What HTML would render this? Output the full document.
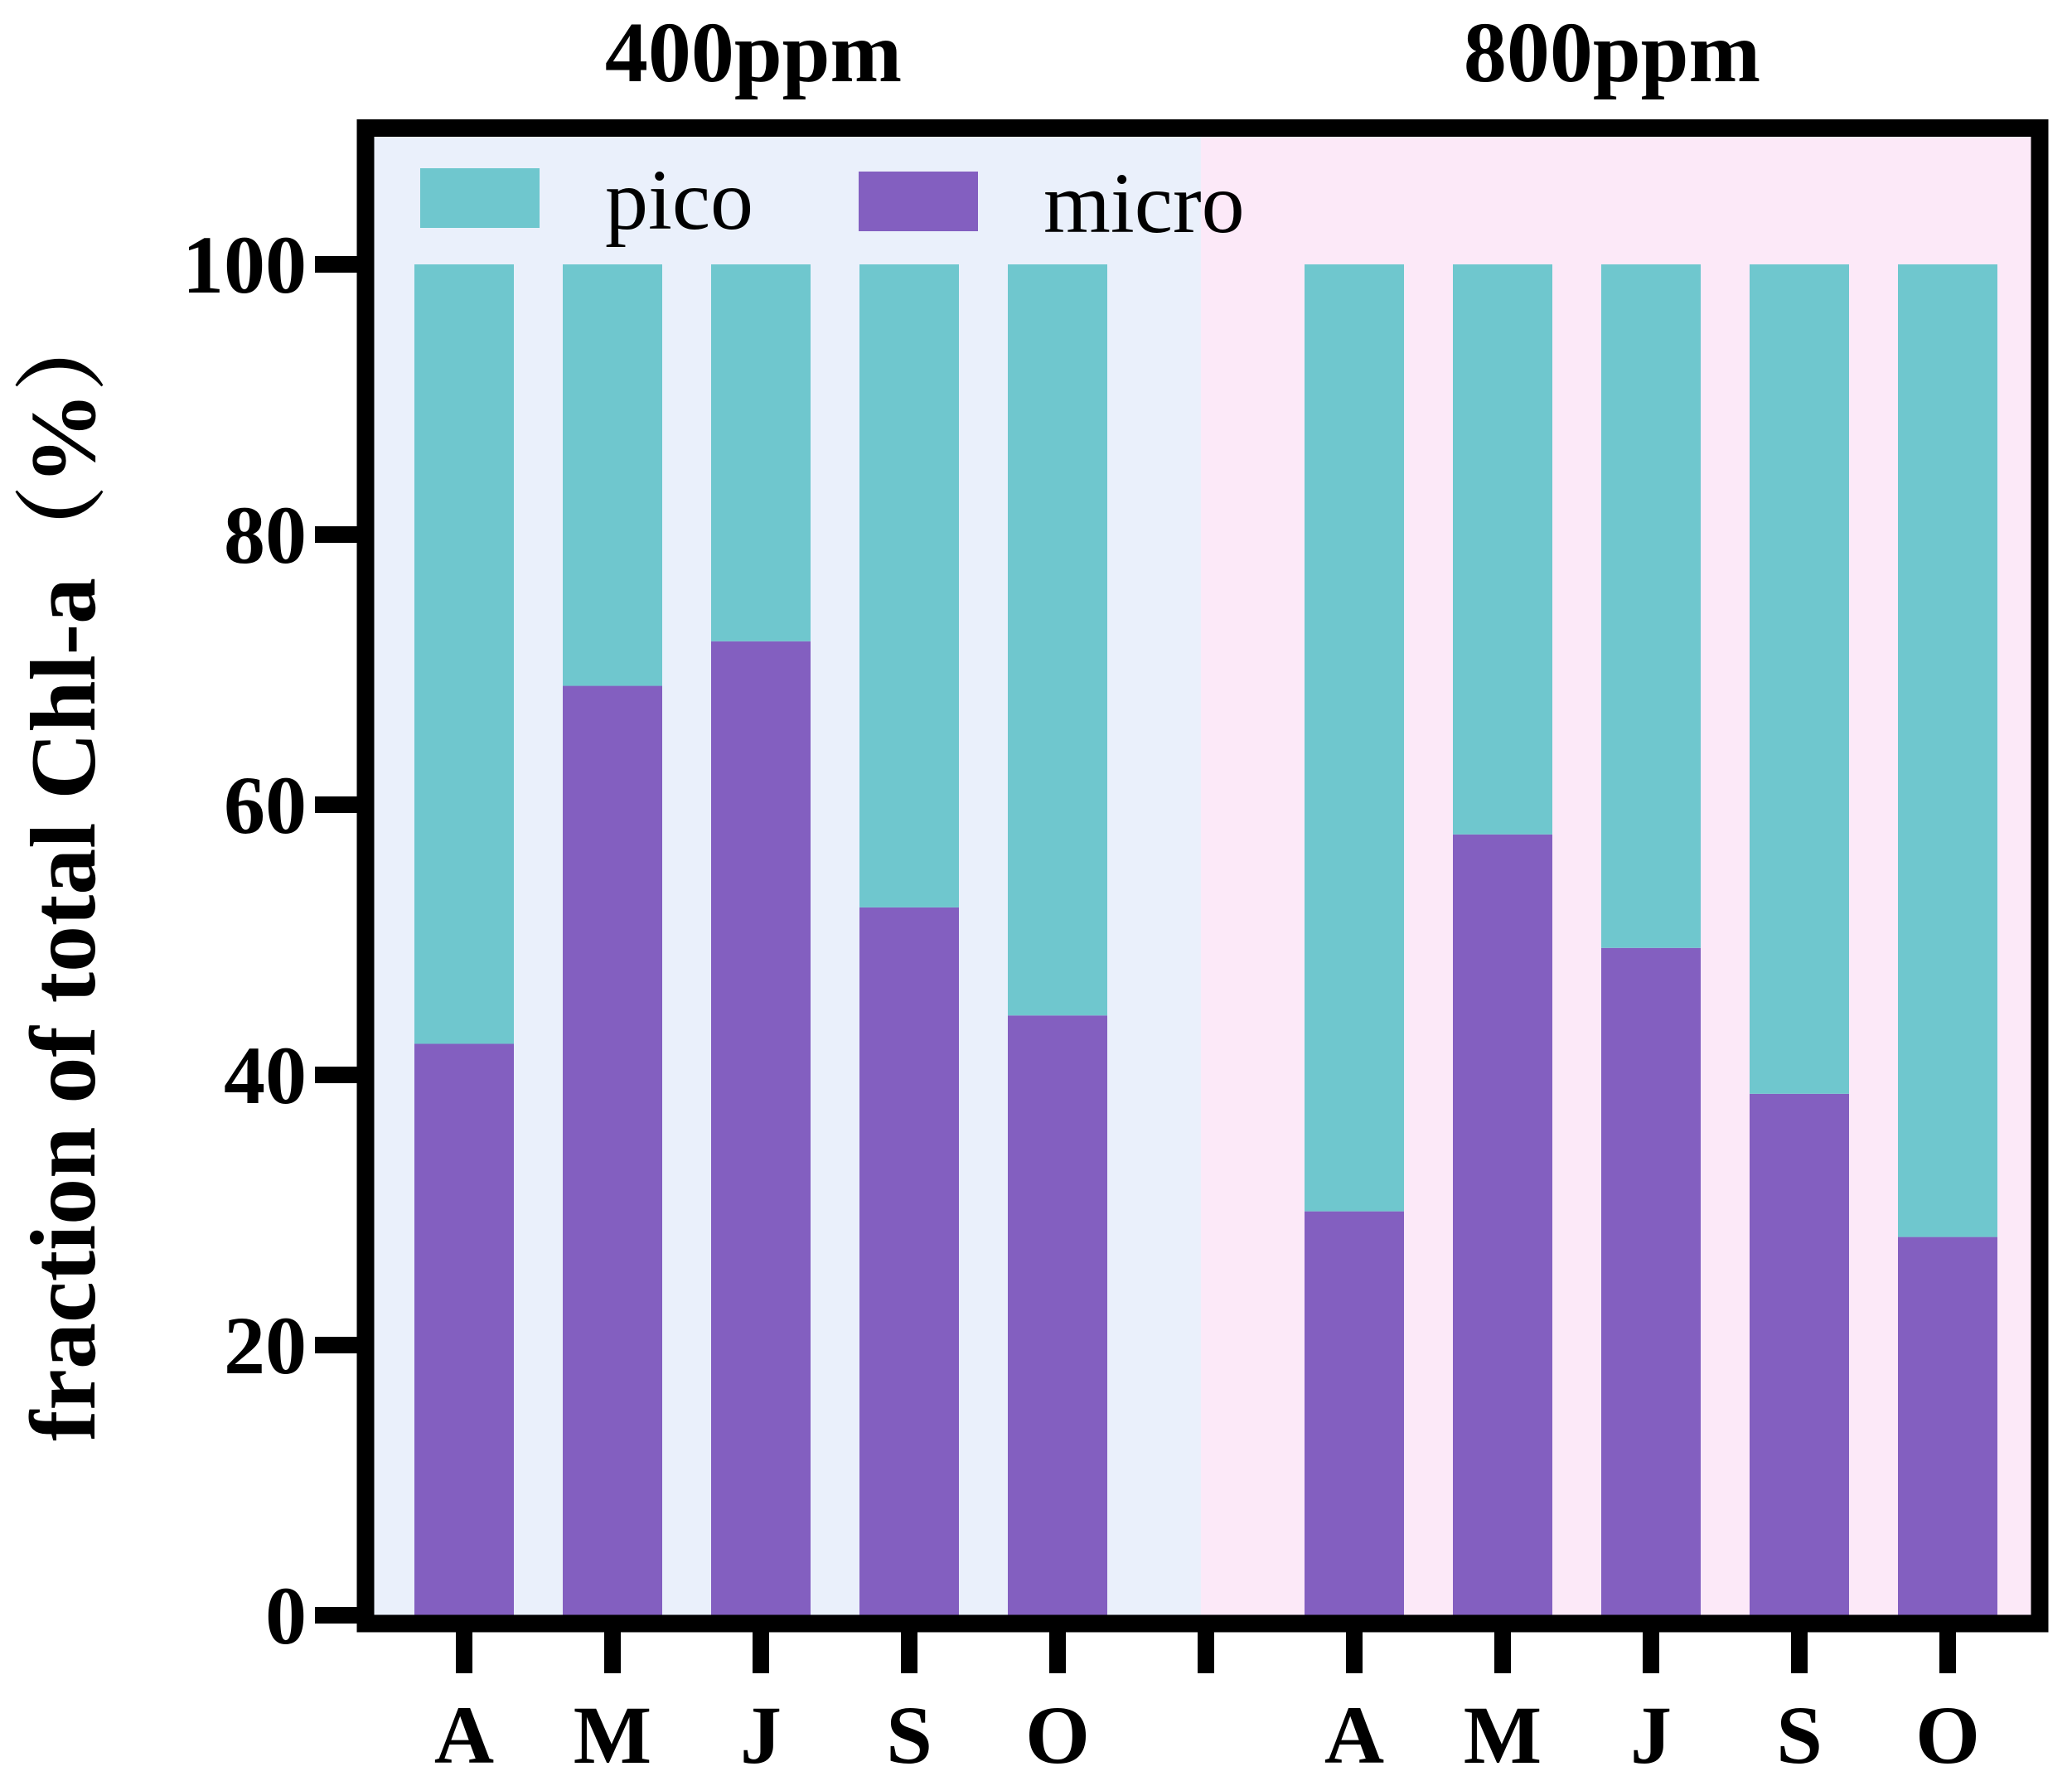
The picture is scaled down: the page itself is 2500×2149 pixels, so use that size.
<!DOCTYPE html>
<html><head><meta charset="utf-8"><style>
html,body{margin:0;padding:0;background:#fff;}
svg{display:block;}
</style></head><body>
<svg id="chart" width="2500" height="2149" viewBox="0 0 2500 2149" xmlns="http://www.w3.org/2000/svg" font-family="'Liberation Serif', 'Noto Serif CJK SC', serif">
<rect x="441" y="155" width="1010" height="1804" fill="#eaf0fb"/>
<rect x="1449" y="155" width="1012" height="1804" fill="#fce9f8"/>
<g id="bars"></g>
<g id="axes"></g>
<rect x="441" y="154.5" width="2020" height="1804.5" fill="none" stroke="#000" stroke-width="21"/>
<text x="909" y="98" font-size="104" font-weight="bold" text-anchor="middle" font-family="'Liberation Serif', serif">400ppm</text>
<text x="1945" y="98" font-size="104" font-weight="bold" text-anchor="middle" font-family="'Liberation Serif', serif">800ppm</text>
<g>
<rect x="507" y="203" width="144" height="72" fill="#6fc7ce"/>
<text x="730" y="276" font-size="104" font-family="'Liberation Serif', serif">pico</text>
<rect x="1036" y="207" width="144" height="72" fill="#835fc0"/>
<text x="1259" y="280" font-size="104" font-family="'Liberation Serif', serif">micro</text>
</g>
<text transform="translate(114,1050) rotate(-90)" font-size="112" font-weight="bold" text-anchor="middle" font-family="'Liberation Serif', 'Noto Serif CJK SC', serif">fraction of total Chl-a（%）</text>
</svg>
<script>
const categories = ["A","M","J","S","O","","A","M","J","S","O"];
const microValues = [42.3, 68.8, 72.1, 52.4, 44.4, null, 29.9, 57.8, 49.4, 38.6, 28.0];
const picoValues = [57.7, 31.2, 27.9, 47.6, 55.6, null, 70.1, 42.2, 50.6, 61.4, 72.0];
const yTicks = [0, 20, 40, 60, 80, 100];

const NS = "http://www.w3.org/2000/svg";
const yScale = v => 1949 - v * 16.3;
const xScale = i => 560 + i * 179;
const barW = 120;
function mk(tag, attrs, parent) {
  const e = document.createElementNS(NS, tag);
  for (const k in attrs) e.setAttribute(k, attrs[k]);
  parent.appendChild(e);
  return e;
}
const bars = document.getElementById('bars');
const axes = document.getElementById('axes');
categories.forEach((c, i) => {
  if (microValues[i] === null) return;
  const x = xScale(i) - barW / 2;
  const m = microValues[i], p = picoValues[i];
  const r1 = mk('rect', {x: x, y: yScale(m), width: barW, height: yScale(0) - yScale(m), fill: '#835fc0'}, bars);
  
  
  const r2 = mk('rect', {x: x, y: yScale(m + p), width: barW, height: yScale(m) - yScale(m + p), fill: '#6fc7ce'}, bars);
  
  
});
categories.forEach((c, i) => {
  const t = mk('rect', {x: xScale(i) - 10, y: 1959, width: 20, height: 60, fill: '#000'}, axes);
  
  
  if (c) {
    const l = mk('text', {x: xScale(i), y: 2127, 'font-size': 100, 'font-weight': 'bold', 'text-anchor': 'middle', 'font-family': "'Liberation Serif', serif"}, axes);
    l.textContent = c;
    
    
  }
});
yTicks.forEach(v => {
  const t = mk('rect', {x: 380, y: yScale(v) - 10, width: 60, height: 20, fill: '#000'}, axes);
  
  
  const l = mk('text', {x: 370, y: yScale(v) + 34, 'font-size': 100, 'font-weight': 'bold', 'text-anchor': 'end', 'font-family': "'Liberation Serif', serif"}, axes);
  l.textContent = v;
  
  
});
</script>
</body></html>
